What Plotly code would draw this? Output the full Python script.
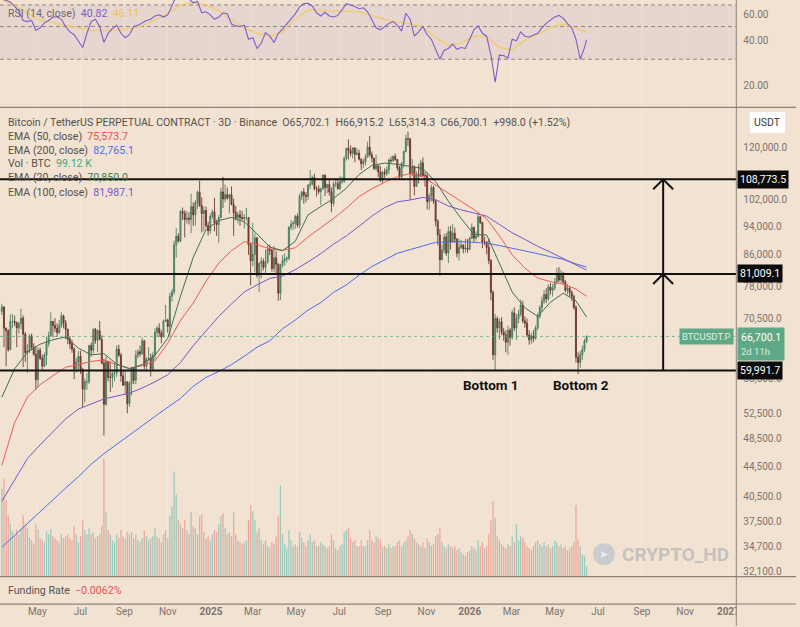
import math
import pandas as pd
import plotly.graph_objects as go

# ---------------- data (prices in thousands of USDT, 3D bars) ----------------
first_open_k = 72.1
close_k = [
    73.1, 68.4, 67.9, 64.0, 69.9, 69.9, 69.6, 68.5, 69.4, 70.6,
    67.2, 63.4, 63.8, 66.8, 64.5, 63.1, 58.3, 63.9, 62.3, 60.8,
    62.9, 65.2, 66.9, 69.9, 69.0, 68.4, 67.5, 69.0, 71.1, 69.6,
    68.2, 66.2, 65.2, 64.1, 60.3, 61.6, 62.7, 60.2, 56.6, 57.9,
    57.9, 64.8, 63.9, 68.2, 65.9, 67.9, 66.1, 61.4, 54.0, 61.7,
    58.7, 58.7, 59.5, 59.5, 64.1, 62.9, 59.0, 57.3, 57.9, 54.1,
    57.6, 60.5, 58.2, 62.9, 63.6, 63.2, 65.8, 60.8, 62.1, 62.3,
    60.3, 62.9, 67.6, 68.4, 67.4, 66.6, 69.9, 70.2, 68.8, 75.6,
    76.6, 88.7, 91.1, 89.8, 98.4, 97.9, 96.0, 96.4, 96.0, 99.9,
    97.4, 101.1, 104.5, 100.2, 97.8, 98.7, 94.2, 92.7, 96.9, 98.3,
    95.0, 94.5, 96.5, 104.6, 102.3, 103.7, 102.6, 103.7, 100.6, 98.1,
    96.5, 97.4, 96.6, 96.2, 96.6, 96.6, 88.7, 84.4, 86.1, 90.6,
    80.7, 83.7, 84.3, 82.7, 84.1, 87.5, 87.2, 82.4, 85.2, 83.5,
    76.3, 83.4, 84.5, 84.9, 85.1, 93.7, 94.6, 94.9, 96.9, 94.3,
    103.0, 104.6, 103.5, 103.1, 106.8, 107.3, 109.4, 105.6, 105.6, 104.7,
    105.6, 110.2, 106.0, 107.0, 104.6, 100.9, 107.3, 107.3, 105.7, 108.0,
    108.2, 116.0, 119.8, 119.0, 117.9, 119.9, 117.6, 118.0, 115.8, 114.2,
    114.9, 116.5, 120.2, 117.4, 116.2, 112.5, 113.5, 111.3, 108.4, 111.2,
    110.7, 112.0, 115.5, 115.3, 116.8, 115.7, 112.7, 109.6, 114.3, 118.6,
    123.5, 123.3, 110.6, 113.0, 106.4, 110.5, 110.0, 114.5, 110.0, 110.0,
    101.5, 103.3, 106.0, 101.6, 95.5, 91.5, 84.7, 87.3, 90.9, 86.5,
    92.5, 89.5, 92.0, 90.3, 86.4, 88.0, 88.6, 87.6, 87.8, 87.5,
    90.5, 93.7, 90.6, 91.0, 96.8, 95.1, 89.5, 89.5, 88.0, 84.5,
    76.5, 63.0, 70.5, 68.5, 69.8, 67.6, 67.0, 65.5, 68.0, 66.5,
    71.8, 68.5, 70.5, 71.5, 73.5, 70.0, 69.5, 67.0, 66.0, 66.8,
    66.3, 68.5, 71.0, 73.0, 74.5, 76.0, 75.0, 77.8, 77.0, 77.5,
    79.0, 81.0, 79.5, 80.8, 79.0, 77.0, 77.5, 76.5, 75.5, 73.0,
    62.5, 61.5, 63.0, 64.0, 65.7021, 66.7001]
high_k = [
    73.8, 73.3, 68.6, 68.2, 71.5, 71.5, 71.2, 69.9, 69.8, 72.7,
    71.2, 67.6, 65.1, 67.2, 67.3, 65.3, 64.7, 64.4, 64.4, 63.0,
    63.4, 66.6, 67.7, 71.9, 70.0, 70.6, 69.5, 70.2, 71.9, 71.4,
    70.2, 68.3, 66.8, 66.0, 64.5, 62.4, 63.8, 63.8, 60.5, 58.5,
    59.5, 65.0, 65.4, 68.4, 68.5, 68.2, 70.0, 66.9, 62.2, 62.7,
    61.8, 61.7, 59.8, 61.4, 64.9, 65.0, 63.4, 60.0, 59.8, 58.0,
    58.0, 60.7, 60.6, 63.9, 64.1, 64.8, 66.5, 66.0, 62.5, 64.5,
    63.2, 63.5, 68.4, 68.9, 69.5, 68.0, 70.3, 73.6, 70.5, 76.4,
    77.3, 89.9, 93.4, 92.0, 98.9, 99.6, 98.8, 98.6, 98.2, 104.0,
    101.3, 102.0, 105.0, 108.3, 102.8, 99.9, 99.9, 95.3, 97.8, 99.0,
    102.7, 95.9, 97.3, 105.9, 109.6, 107.0, 106.0, 104.0, 106.4, 102.5,
    100.1, 98.3, 98.8, 98.6, 97.6, 99.5, 96.6, 89.3, 95.0, 92.0,
    91.0, 84.0, 85.3, 85.0, 87.4, 88.7, 88.8, 87.6, 88.5, 87.0,
    83.8, 83.6, 85.9, 86.4, 85.5, 94.0, 95.8, 95.6, 97.4, 97.8,
    103.9, 104.9, 105.8, 104.5, 107.1, 111.9, 110.0, 110.7, 106.5, 106.8,
    106.0, 110.5, 110.4, 107.3, 108.9, 106.0, 108.1, 108.5, 108.8, 110.0,
    109.7, 116.8, 120.0, 123.2, 120.9, 120.2, 120.2, 119.8, 119.2, 116.1,
    115.8, 117.7, 122.3, 124.5, 118.6, 116.2, 117.4, 113.6, 113.4, 111.7,
    112.5, 113.2, 116.0, 116.8, 117.2, 117.9, 115.9, 113.4, 114.8, 119.0,
    125.0, 126.2, 123.8, 115.9, 113.6, 111.5, 114.0, 115.5, 116.4, 111.3,
    111.0, 104.1, 107.0, 106.6, 102.0, 96.0, 93.2, 88.8, 91.8, 92.0,
    93.9, 94.1, 94.6, 93.6, 90.6, 90.4, 90.0, 89.0, 90.4, 90.3,
    91.0, 94.8, 93.7, 92.5, 97.9, 97.0, 95.3, 91.0, 89.7, 90.5,
    84.8, 77.0, 71.5, 71.0, 70.5, 70.8, 68.5, 68.0, 69.0, 68.5,
    72.5, 73.0, 71.5, 72.5, 74.8, 74.5, 71.0, 70.5, 68.0, 67.5,
    68.0, 69.0, 71.8, 73.5, 75.5, 77.0, 77.5, 78.5, 78.8, 78.5,
    80.0, 82.5, 82.8, 82.0, 81.5, 79.5, 78.5, 78.0, 77.0, 76.0,
    73.5, 63.5, 63.8, 64.8, 66.2, 66.9152]
low_k = [
    71.3, 64.5, 60.8, 63.6, 63.9, 68.4, 68.9, 64.5, 67.3, 68.2,
    60.6, 61.6, 59.6, 63.3, 63.9, 62.8, 56.5, 56.9, 62.0, 60.2,
    60.6, 61.0, 64.6, 66.6, 66.5, 67.6, 66.6, 67.2, 68.5, 68.4,
    66.1, 65.1, 64.1, 63.4, 58.4, 59.6, 60.0, 59.4, 53.5, 54.3,
    56.5, 57.5, 62.6, 63.3, 65.2, 63.5, 65.9, 61.1, 49.0, 53.7,
    58.0, 56.1, 56.9, 58.0, 58.8, 62.6, 57.9, 57.2, 55.6, 52.5,
    53.6, 55.5, 57.5, 57.5, 62.3, 62.6, 63.0, 60.2, 59.8, 61.8,
    58.9, 60.0, 62.0, 66.8, 66.6, 65.3, 66.5, 69.8, 67.5, 66.8,
    74.4, 76.0, 85.2, 89.3, 89.4, 95.8, 90.8, 94.8, 94.5, 92.0,
    94.1, 94.2, 99.2, 99.8, 92.2, 92.5, 93.5, 91.3, 91.8, 96.2,
    92.5, 91.2, 89.3, 96.5, 99.5, 101.2, 102.1, 97.8, 100.3, 91.2,
    95.7, 94.8, 94.1, 95.9, 93.4, 95.6, 86.0, 78.2, 83.0, 81.4,
    80.1, 76.6, 79.9, 81.9, 81.3, 83.7, 85.9, 81.6, 81.5, 81.2,
    74.5, 74.7, 82.6, 83.1, 83.9, 84.6, 92.8, 92.9, 93.3, 93.6,
    93.4, 101.9, 100.8, 101.3, 102.0, 105.6, 106.7, 105.1, 103.1, 103.9,
    100.4, 105.3, 103.3, 104.2, 103.4, 98.2, 100.0, 106.2, 105.3, 105.1,
    107.3, 107.5, 115.3, 115.7, 116.8, 116.1, 114.7, 117.2, 115.3, 112.0,
    112.7, 113.6, 116.4, 116.9, 114.7, 112.0, 111.7, 109.5, 107.9, 107.3,
    109.3, 110.0, 110.6, 114.4, 114.8, 115.2, 111.8, 108.6, 109.2, 112.8,
    118.3, 120.6, 102.0, 109.8, 103.5, 106.2, 107.4, 109.6, 109.8, 106.3,
    99.0, 98.9, 101.5, 100.8, 94.0, 88.6, 80.6, 84.5, 86.3, 85.7,
    83.8, 87.4, 89.3, 89.3, 85.3, 84.5, 87.6, 86.4, 86.6, 86.5,
    87.2, 90.3, 89.4, 89.9, 90.9, 94.6, 87.8, 88.6, 86.1, 83.5,
    74.6, 62.0, 60.0, 67.5, 66.0, 67.0, 65.8, 63.5, 63.0, 64.8,
    66.0, 67.8, 66.0, 69.5, 71.0, 69.5, 68.5, 66.5, 65.0, 65.2,
    65.5, 66.0, 68.0, 70.5, 72.0, 73.8, 74.0, 74.5, 76.0, 75.5,
    77.0, 78.5, 79.0, 78.8, 78.5, 76.5, 76.0, 75.5, 74.5, 72.5,
    61.5, 59.3, 60.5, 62.0, 63.5, 65.3143]
volume_kbtc = [
    880, 980, 760, 610, 520, 450, 400, 470, 420, 480,
    610, 520, 480, 390, 360, 330, 520, 470, 380, 360,
    340, 450, 420, 470, 400, 380, 360, 340, 420, 380,
    400, 420, 380, 360, 500, 420, 340, 400, 560, 460,
    420, 480, 420, 440, 380, 400, 420, 500, 1180, 640,
    460, 420, 360, 340, 420, 380, 460, 400, 380, 440,
    420, 440, 380, 420, 360, 340, 380, 460, 400, 360,
    380, 400, 480, 400, 380, 340, 420, 460, 380, 600,
    700, 1050, 820, 560, 520, 480, 560, 460, 420, 640,
    500, 480, 420, 600, 620, 440, 380, 400, 360, 420,
    460, 440, 520, 600, 630, 480, 420, 440, 400, 640,
    420, 360, 340, 320, 340, 360, 560, 710, 650, 560,
    440, 480, 360, 320, 360, 300, 280, 340, 320, 400,
    600, 910, 420, 320, 280, 460, 360, 300, 320, 300,
    440, 380, 340, 300, 360, 420, 340, 360, 300, 300,
    340, 320, 300, 280, 300, 420, 360, 280, 260, 300,
    320, 440, 460, 480, 380, 340, 360, 300, 300, 360,
    300, 300, 360, 460, 360, 340, 400, 380, 360, 300,
    300, 280, 320, 280, 300, 300, 340, 360, 300, 340,
    360, 400, 460, 420, 380, 340, 320, 300, 340, 280,
    380, 340, 300, 320, 400, 420, 480, 340, 300, 280,
    320, 300, 280, 300, 260, 280, 240, 220, 200, 240,
    260, 300, 280, 260, 360, 300, 340, 280, 300, 420,
    560, 750, 580, 400, 360, 320, 300, 280, 320, 300,
    400, 340, 520, 360, 400, 380, 340, 300, 280, 260,
    300, 340, 360, 320, 300, 340, 300, 320, 280, 300,
    360, 340, 300, 320, 280, 300, 260, 280, 300, 340,
    710, 370, 300, 220, 200, 99.12]
# RSI(14): one reading every 2nd bar, plus the last bar
rsi_vals = [
    77, 75, 73.5, 68.5, 64, 55, 54, 55, 47, 49,
    53, 55, 58, 58, 56, 50, 46, 44, 40, 36,
    45, 54, 56, 50, 39, 45, 48.6, 51, 45, 42,
    44, 50, 51, 53, 55, 56, 59, 60, 58, 60,
    69, 80, 85, 82, 77, 72.5, 74, 62, 63, 60,
    56, 58, 62, 61, 52, 50.5, 50, 51, 41, 42,
    35.5, 38.5, 45.5, 43, 39, 45, 48, 52, 57, 61,
    68, 71.5, 72, 69, 62, 59, 62.5, 59, 58, 59.5,
    65, 71.5, 70, 68.5, 66, 67, 63, 55, 49, 47.5,
    50, 52.4, 54, 51, 46.5, 61.5, 56, 43, 46, 50,
    44, 41, 35, 30, 34.5, 35.5, 38, 35, 36, 35.5,
    41, 47.5, 50.5, 45, 43, 32, 21, 32, 31.8, 30.5,
    41, 40, 46, 43, 42.5, 43.5, 45, 49, 52.5, 55.3,
    58, 59.5, 57, 52.4, 49, 41, 30, 36,
    40.82]
# RSI moving average and EMAs: one reading every 6th bar, plus the last bar
rsi_ma_vals = [
    76, 70, 62, 55.3, 53, 51, 49, 47, 47, 47.3,
    48.3, 50.5, 55.5, 61, 70, 73, 70, 64, 55.5, 49,
    45, 42.6, 46, 56, 64.7, 64.2, 63.6, 63.6, 63, 59.5,
    56, 53.5, 52.5, 49.5, 42, 37.5, 38.5, 43, 42.6, 36,
    34.7, 40.4, 44.7, 49, 52, 49, 46.11]
ema20_k = [
    55.2, 60.3, 63.5, 65.1, 66.0, 66.6, 64.3, 63.0, 63.2, 61.2,
    60.3, 61.1, 62.9, 66.3, 75.6, 85.3, 93.0, 95.7, 96.6, 95.3,
    91.8, 88.1, 87.1, 89.7, 97.4, 99.9, 102.5, 105.8, 110.4, 113.6,
    114.4, 114.0, 113.2, 112.5, 108.0, 101.6, 96.3, 91.6, 91.5, 83.7,
    76.6, 72.9, 71.0, 74.2, 76.3, 74.5, 70.85]
ema50_k = [
    44.65, 51.0, 55.2, 57.4, 59.0, 60.6, 61.1, 61.7, 62.0, 61.1,
    60.4, 60.9, 61.8, 65.3, 70.1, 74.0, 79.2, 83.8, 87.1, 89.6,
    88.8, 87.6, 87.2, 87.9, 90.9, 93.5, 96.3, 99.4, 103.1, 105.6,
    107.8, 109.6, 110.8, 109.6, 106.8, 104.0, 101.5, 99.0, 96.2, 91.2,
    86.0, 82.5, 80.0, 79.1, 78.5, 77.3, 75.5737]
ema100_k = [
    39.93, 42.7, 45.6, 47.6, 49.6, 51.6, 53.2, 54.1, 54.9, 55.4,
    55.9, 56.8, 57.9, 59.2, 61.5, 64.8, 67.9, 71.0, 73.8, 76.6,
    78.3, 79.9, 80.5, 82.1, 84.1, 86.3, 88.9, 91.2, 94.0, 97.0,
    99.6, 101.4, 102.0, 102.8, 102.1, 100.1, 98.9, 98.0, 97.0, 94.5,
    92.1, 90.2, 88.3, 86.7, 85.0, 83.5, 81.9871]
ema200_k = [
    34.6, 35.9, 37.3, 38.7, 40.2, 41.6, 43.1, 44.8, 46.3, 47.7,
    49.1, 50.5, 52.0, 53.5, 55.0, 57.1, 58.7, 59.8, 61.1, 62.7,
    64.5, 65.8, 68.3, 70.2, 72.4, 74.1, 76.5, 78.3, 80.7, 82.9,
    84.6, 86.4, 87.4, 88.5, 89.4, 89.5, 89.6, 89.4, 89.2, 88.5,
    87.8, 87.1, 86.3, 85.5, 84.8, 83.6, 82.7651]
levels = [108773.5, 81009.1, 59991.7]
bottom_labels = ["Bottom 1", "Bottom 2"]
bottom_dates = ["2026-01-31 12:00", "2026-06-07"]
arrow_date = "2026-10-01"
month_ticks = ["2024-05-01", "2024-07-01", "2024-09-01", "2024-11-01", "2025-01-01",
               "2025-03-01", "2025-05-01", "2025-07-01", "2025-09-01", "2025-11-01",
               "2026-01-01", "2026-03-01", "2026-05-01", "2026-07-01", "2026-09-01",
               "2026-11-01", "2027-01-01"]
month_text = ["May", "Jul", "Sep", "Nov", "<b>2025</b>", "Mar", "May", "Jul", "Sep", "Nov",
              "<b>2026</b>", "Mar", "May", "Jul", "Sep", "Nov", "<b>2027</b>"]
price_ticks = [32100, 34700, 37500, 40500, 44500, 48500, 52500, 58500, 70500,
               78000, 86000, 94000, 102000, 120000]
rsi_ticks = [20, 40, 60]
rsi_bands = [70, 50, 30]
funding_rate = "\u22120.0062%"
countdown = "2d 11h"

# ---------------- styling ----------------
BG = "#f2e2d1"
FONT = "Roboto, Inter, sans-serif"
AXC = "#7b7470"
TXT = "#55514d"
H = 627.0
XR = ["2024-03-09 09:00", "2027-01-12 05:00"]
XDOM = 0.925


def py(p):
    return 1 - p / H


P_LO, P_HI = 31630, 135890
R_LO, R_HI = 14.15, 75.7

dates = pd.date_range("2024-03-12", periods=len(close_k), freq="3D")
opens_k = [first_open_k] + close_k[:-1]
O = [v * 1000 for v in opens_k]
Hh = [v * 1000 for v in high_k]
L = [v * 1000 for v in low_k]
C = [v * 1000 for v in close_k]
ema_dates = list(dates[::6]) + [dates[-1]]
rsi_dates = list(dates[::2]) + [dates[-1]]

fig = go.Figure()

# volume (base axis y2)
vol_colors = ["rgba(38,166,154,0.42)" if c >= o else "rgba(239,83,80,0.42)"
              for o, c in zip(opens_k, close_k)]
fig.add_trace(go.Bar(x=dates, y=volume_kbtc, marker=dict(color=vol_colors, line=dict(width=0)),
                     width=3 * 86400000 * 0.6, xaxis="x", yaxis="y2", hoverinfo="skip"))

# RSI pane
fig.add_trace(go.Scatter(x=XR, y=[rsi_bands[0]] * 2, mode="lines", line=dict(width=0),
                         xaxis="x", yaxis="y", hoverinfo="skip"))
fig.add_trace(go.Scatter(x=XR, y=[rsi_bands[2]] * 2, mode="lines", line=dict(width=0),
                         fill="tonexty", fillcolor="rgba(126,87,194,0.09)",
                         xaxis="x", yaxis="y", hoverinfo="skip"))
for b in rsi_bands:
    fig.add_trace(go.Scatter(x=XR, y=[b, b], mode="lines",
                             line=dict(color="#8d8782", width=1, dash="4px,3px"),
                             xaxis="x", yaxis="y", hoverinfo="skip"))
fig.add_trace(go.Scatter(x=ema_dates, y=rsi_ma_vals, mode="lines",
                         line=dict(color="rgba(245,200,90,0.75)", width=1.6),
                         xaxis="x", yaxis="y", hoverinfo="skip"))
fig.add_trace(go.Scatter(x=rsi_dates, y=rsi_vals, mode="lines",
                         line=dict(color="#7b5fc9", width=1.1),
                         xaxis="x", yaxis="y", hoverinfo="skip"))

# price pane (y3 overlays y2)
fig.add_trace(go.Scatter(x=XR, y=[C[-1]] * 2, mode="lines",
                         line=dict(color="rgba(80,160,120,0.7)", width=1, dash="dot"),
                         xaxis="x", yaxis="y3", hoverinfo="skip"))
for vals, col in [(ema200_k, "#4d6cf0"), (ema100_k, "#7a55c8"),
                  (ema50_k, "#ec5a55"), (ema20_k, "#3f6e50")]:
    fig.add_trace(go.Scatter(x=ema_dates, y=[v * 1000 for v in vals], mode="lines",
                             line=dict(color=col, width=1), xaxis="x", yaxis="y3",
                             hoverinfo="skip"))
fig.add_trace(go.Candlestick(
    x=dates, open=O, high=Hh, low=L, close=C, xaxis="x", yaxis="y3",
    increasing=dict(line=dict(color="#3f7358", width=0.8), fillcolor="#66a986"),
    decreasing=dict(line=dict(color="#5b2a22", width=0.8), fillcolor="#bf4a3e"),
    whiskerwidth=0, hoverinfo="skip"))

# level lines
for lv in levels:
    fig.add_trace(go.Scatter(x=XR, y=[lv, lv], mode="lines", line=dict(color="#111111", width=2),
                             xaxis="x", yaxis="y3", hoverinfo="skip"))
# vertical arrow with chevrons
fig.add_trace(go.Scatter(x=[arrow_date, arrow_date], y=[levels[2], levels[0]], mode="lines",
                         line=dict(color="#111111", width=2), xaxis="x", yaxis="y3",
                         hoverinfo="skip"))
total_days = (pd.Timestamp(XR[1]) - pd.Timestamp(XR[0])).total_seconds() / 86400
px_per_day = 740.0 / total_days
pane_px = 469.0
px_per_log = pane_px / (math.log10(P_HI) - math.log10(P_LO))
half = pd.Timedelta(days=10 / px_per_day)
drop = 10 ** (-10 / px_per_log)
for lv in levels[:2]:
    ad = pd.Timestamp(arrow_date)
    fig.add_trace(go.Scatter(x=[ad - half, ad, ad + half], y=[lv * drop, lv, lv * drop],
                             mode="lines", line=dict(color="#111111", width=2),
                             xaxis="x", yaxis="y3", hoverinfo="skip"))

axis_font = dict(family=FONT, size=10, color=AXC)
fig.update_layout(
    width=800, height=627, margin=dict(l=0, r=0, t=0, b=0),
    paper_bgcolor=BG, plot_bgcolor=BG, showlegend=False,
    xaxis=dict(domain=[0, XDOM], type="date", range=XR, anchor="free", position=py(605),
               side="bottom",
               tickvals=month_ticks, ticktext=month_text, ticks="",
               tickfont=axis_font, showgrid=True, gridcolor="rgba(255,255,255,0.22)",
               zeroline=False, showline=False, rangeslider=dict(visible=False)),
    yaxis=dict(domain=[py(107.5), 1], type="log",
               range=[math.log10(R_LO), math.log10(R_HI)], side="right", anchor="x",
               tickvals=rsi_ticks, ticktext=[f"{t:.2f}" for t in rsi_ticks], ticks="",
               tickfont=axis_font, showgrid=False, zeroline=False, ticklabelstandoff=6),
    yaxis2=dict(domain=[py(577), py(108)], range=[0, 4700], visible=False, anchor="x"),
    yaxis3=dict(overlaying="y2", type="log",
                range=[math.log10(P_LO), math.log10(P_HI)], side="right", anchor="x",
                tickvals=price_ticks, ticktext=[f"{t:,.1f}" for t in price_ticks], ticks="",
                tickfont=axis_font, showgrid=False, zeroline=False, ticklabelstandoff=6),
    yaxis4=dict(domain=[py(605), py(578)], range=[-1, 1], visible=False, anchor="x"),
)

SEP = "#8c827a"
shapes = [
    dict(type="line", xref="paper", yref="paper", x0=XDOM, x1=XDOM, y0=0, y1=1,
         line=dict(color=SEP, width=1)),
    dict(type="line", xref="paper", yref="paper", x0=0, x1=1, y0=py(107.5), y1=py(107.5),
         line=dict(color=SEP, width=1.2)),
    dict(type="line", xref="paper", yref="paper", x0=0, x1=1, y0=py(577.5), y1=py(577.5),
         line=dict(color=SEP, width=1.2)),
    dict(type="line", xref="paper", yref="paper", x0=0, x1=1, y0=py(605), y1=py(605),
         line=dict(color=SEP, width=1.2)),
    dict(type="rect", xref="paper", yref="paper", x0=XDOM + 0.0008, x1=1, y0=0, y1=py(605.6),
         fillcolor=BG, line=dict(width=0), layer="above"),
    dict(type="circle", xref="paper", yref="paper", x0=596 / 800, x1=618 / 800,
         y0=py(566), y1=py(544), fillcolor="rgba(130,160,200,0.35)", line=dict(width=0)),
]
fig.update_layout(shapes=shapes)


def colored(label, value, color):
    return f"<span style='color:{TXT}'>{label}</span>  <span style='color:{color}'>{value}</span>"


o_, h_, l_, c_ = O[-1], Hh[-1], L[-1], C[-1]
chg = c_ - o_
title = (f"Bitcoin / TetherUS PERPETUAL CONTRACT \u00b7 3D \u00b7 Binance  "
         f"O{o_:,.1f}  H{h_:,.1f}  L{l_:,.1f}  C{c_:,.1f}  {chg:+,.1f} ({chg / o_ * 100:+.2f}%)")
leg_rows = [
    (123, f"<span style='color:{TXT}'>{title}</span>"),
    (136.5, colored("EMA (50, close)", f"{ema50_k[-1] * 1000:,.1f}", "#e9514c")),
    (150.5, colored("EMA (200, close)", f"{ema200_k[-1] * 1000:,.1f}", "#4d6cf0")),
    (164, colored("Vol \u00b7 BTC", f"{volume_kbtc[-1]:.2f} K", "#3fa88e")),
    (178, colored("EMA (20, close)", f"{ema20_k[-1] * 1000:,.1f}", "#3f7a52")),
    (192.5, colored("EMA (100, close)", f"{ema100_k[-1] * 1000:,.1f}", "#7a55c8")),
]
ann = []
for yy, txt in leg_rows:
    ann.append(dict(xref="paper", yref="paper", x=6 / 800, y=py(yy), xanchor="left",
                    yanchor="middle", text=txt, showarrow=False,
                    font=dict(family=FONT, size=10.6, color=TXT)))
ann.append(dict(xref="paper", yref="paper", x=6 / 800, y=py(13.5), xanchor="left",
                yanchor="middle", showarrow=False, font=dict(family=FONT, size=10.6, color=TXT),
                text=(f"<span style='color:#6e6964'>RSI (14, close)</span>  "
                      f"<span style='color:#7b5fc9'>{rsi_vals[-1]:.2f}</span>  "
                      f"<span style='color:#f0c35c'>{rsi_ma_vals[-1]:.2f}</span>")))
ann.append(dict(xref="paper", yref="paper", x=6 / 800, y=py(591), xanchor="left",
                yanchor="middle", showarrow=False, font=dict(family=FONT, size=10.6, color=TXT),
                text=f"Funding Rate  <span style='color:#e0555a'>{funding_rate}</span>"))
for lab, d in zip(bottom_labels, bottom_dates):
    ann.append(dict(xref="x", yref="paper", x=d, y=py(386), xanchor="center",
                    yanchor="middle", showarrow=False, text=f"<b>{lab}</b>",
                    font=dict(family=FONT, size=13.5, color="#111111")))
for lv in levels:
    ann.append(dict(xref="paper", yref="y3", x=741 / 800, y=math.log10(lv), xanchor="left",
                    yanchor="middle", showarrow=False, text=f"{lv:,.1f}", bgcolor="#0b0b0b",
                    borderpad=2, font=dict(family=FONT, size=10.5, color="#ffffff")))
ann.append(dict(xref="paper", yref="y3", x=741 / 800, y=math.log10(C[-1]), xanchor="left",
                yanchor="top", yshift=9, showarrow=False, align="left",
                text=f"{C[-1]:,.1f}<br><span style='font-size:9.5px;color:#d8efe2'>{countdown}</span>",
                bgcolor="#5fa886", borderpad=3,
                font=dict(family=FONT, size=10.5, color="#ffffff")))
ann.append(dict(xref="paper", yref="y3", x=738 / 800, y=math.log10(C[-1]), xanchor="right",
                yanchor="middle", showarrow=False, text="BTCUSDT.P", bgcolor="#5fa886",
                borderpad=2, font=dict(family=FONT, size=9.5, color="#dff1e7")))
ann.append(dict(xref="paper", yref="paper", x=771 / 800, y=py(122.5), xanchor="center",
                yanchor="middle", showarrow=False, text="USDT", bgcolor="#ffffff",
                bordercolor="#ffffff", borderpad=3,
                font=dict(family=FONT, size=10.5, color="#3a3a3a")))
ann.append(dict(xref="paper", yref="paper", x=623 / 800, y=py(555.5), xanchor="left",
                yanchor="middle", showarrow=False, text="<b>CRYPTO_HD</b>",
                font=dict(family="Roboto, sans-serif", size=19, color="rgba(150,160,178,0.5)")))
ann.append(dict(xref="paper", yref="paper", x=607 / 800, y=py(555), xanchor="center",
                yanchor="middle", showarrow=False, text="\u27a4",
                font=dict(family="DejaVu Sans", size=11, color="rgba(255,255,255,0.7)")))
fig.update_layout(annotations=ann)

fig.write_html("out.html")
